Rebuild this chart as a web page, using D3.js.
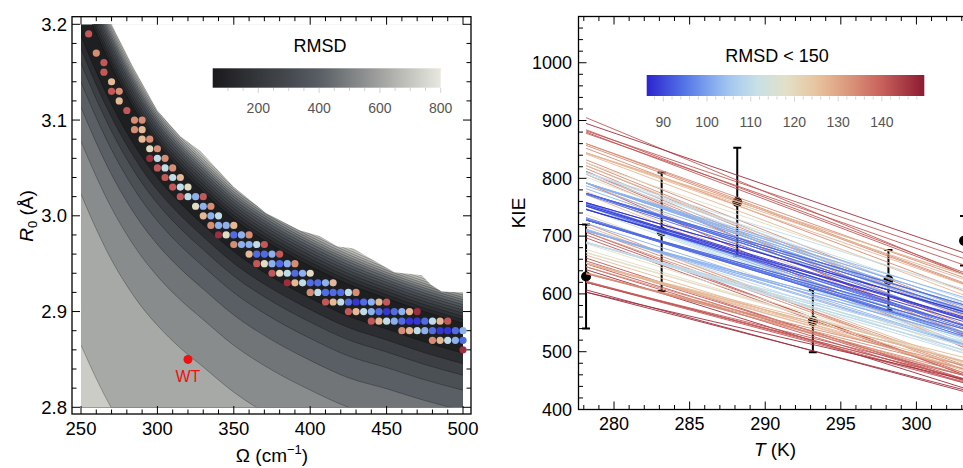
<!DOCTYPE html>
<html>
<head>
<meta charset="utf-8">
<script src="https://cdn.jsdelivr.net/npm/d3@7"></script>
<style>
  body { margin: 0; background: #fff; }
  svg { font-family: "Liberation Sans", Arial, Helvetica, sans-serif; }
</style>
</head>
<body>
<svg id="chart" width="963" height="468"></svg>
<script>
// ---- left panel: RMSD landscape over (Omega, R0) ----
// valley of the RMSD surface (centre of the dark band)
const valleyOmega = [250, 260, 270, 280, 290, 300, 315, 330, 350, 375, 400, 425, 450, 475, 500]
const valleyR0 = [3.21, 3.172, 3.138, 3.108, 3.082, 3.06, 3.033, 3.01, 2.982, 2.955, 2.933, 2.914, 2.90, 2.886, 2.874]
// how much wider the contour spacing is at each Omega (relative to Omega = 400)
const lowerSpread = [1.15, 1.14, 1.13, 1.11, 1.09, 1.07, 1.05, 1.03, 1.02, 1.01, 1.0, 0.99, 0.96, 0.94, 0.92]
const upperSpread = [1.3, 1.26, 1.22, 1.16, 1.1, 1.05, 1.03, 1.02, 1.0, 1.0, 1.0, 1.0, 0.95, 0.95, 0.95]
// contour levels below / above the valley and their R0 distance from it
const lowerLevels = [100, 200, 290, 370, 440, 500, 570, 670]
const lowerOffsets = [0.019, 0.031, 0.044, 0.061, 0.084, 0.115, 0.163, 0.30]
const upperLevels = [100, 150, 200, 250, 300, 350, 400, 450, 500, 550, 600, 650, 700, 750]
const upperOffsets = [0.0145, 0.0185, 0.0222, 0.0257, 0.029, 0.032, 0.035, 0.038, 0.0405, 0.043, 0.0455, 0.048, 0.0505, 0.053]
// where the plotted surface stops (RMSD > 800 left blank)
const edgeOmega = [262, 270, 284, 300, 315, 328, 350, 371, 393, 406, 418, 428, 440, 455, 473, 479, 486, 500, 512]
const edgeR0 = [3.23, 3.2, 3.156, 3.11, 3.083, 3.068, 3.03, 3.003, 2.985, 2.979, 2.968, 2.966, 2.955, 2.941, 2.938, 2.928, 2.921, 2.92, 2.92]

const greyStops = [50, 200, 400, 600, 800]
const greyColors = ["#1a1a1c", "#34373b", "#575d63", "#a0a29f", "#e8e8e0"]
const greyTicks = [200, 400, 600, 800]

// grid points with RMSD < 150, one row per R0, Omega step 5
const omegaStep = 5
const dotRowR0 = [3.19, 3.17, 3.16, 3.15, 3.14, 3.13, 3.12, 3.11, 3.10, 3.09, 3.08, 3.07, 3.06, 3.05, 3.04, 3.03, 3.02,
  3.01, 3.00, 2.99, 2.98, 2.97, 2.96, 2.95, 2.94, 2.93, 2.92, 2.91, 2.90, 2.89, 2.88, 2.87, 2.86]
const dotRowStart = [255, 260, 265, 265, 270, 270, 275, 280, 285, 285, 290, 295, 295, 300, 305, 310, 315,
  325, 330, 335, 340, 350, 360, 365, 375, 385, 400, 410, 425, 440, 460, 480, 500]
const dotRmsd = [
  [141], [134], [141], [141], [127], [141, 134], [127], [141], [134, 134], [134, 127], [127, 134], [119, 134],
  [147, 110, 134], [141, 110, 134], [141, 110, 127], [141, 110, 119], [141, 110, 102, 141],
  [119, 102, 134], [127, 102, 110], [134, 102, 102, 127], [147, 119, 94, 102, 134], [134, 102, 102, 110, 141],
  [127, 94, 94, 102, 141], [141, 119, 102, 94, 102, 134], [141, 119, 110, 94, 102, 119],
  [147, 127, 110, 94, 94, 102, 127], [134, 110, 94, 94, 94, 110, 134],
  [141, 127, 110, 94, 88, 94, 102, 127, 141], [141, 127, 110, 102, 94, 88, 94, 102, 127, 147],
  [141, 127, 110, 102, 94, 88, 88, 94, 110, 127, 141], [134, 127, 110, 102, 94, 88, 88, 94, 102],
  [134, 127, 110, 102, 94], [147]
]
const wtOmega = 320
const wtR0 = 2.85

// ---- right panel: KIE vs T ----
// KIE predicted by each grid point above, at 278.15 K and at 303.15 K
const lineKie278 = [
  [792], [722], [812], [707], [777], [702, 807], [772], [697], [712, 812], [707, 792], [717, 817], [737, 822],
  [642, 752, 827], [662, 757, 832], [657, 747, 822], [652, 752, 802], [647, 712, 752, 905],
  [687, 757, 852], [667, 752, 807], [647, 722, 782, 842], [607, 677, 757, 792, 857], [637, 712, 787, 810, 880],
  [654, 732, 772, 792, 884], [622, 672, 710, 752, 792, 860], [620, 671, 690, 755, 792, 827],
  [603, 653, 689, 730, 774, 792, 844], [635, 689, 728, 747, 774, 810, 860],
  [620, 653, 689, 728, 752, 774, 792, 844, 878], [620, 653, 689, 709, 728, 754, 774, 792, 844, 895],
  [620, 653, 689, 709, 728, 746, 758, 774, 810, 844, 882], [635, 653, 689, 709, 728, 746, 758, 774, 792],
  [635, 653, 689, 709, 728], [603]
]
const lineKie303 = [
  [507], [469], [528], [460], [513], [463, 533], [510], [460], [477, 544], [474, 531], [480, 547], [501, 559],
  [437, 511, 562], [450, 522, 574], [453, 515, 567], [450, 519, 561], [446, 498, 526, 634],
  [481, 530, 605], [467, 534, 573], [459, 513, 555, 598], [431, 481, 545, 570, 617], [459, 513, 567, 583, 634],
  [471, 527, 556, 570, 637], [448, 484, 511, 541, 570, 619], [446, 483, 497, 544, 578, 604],
  [434, 470, 503, 533, 565, 578, 616], [464, 503, 531, 545, 565, 591, 628],
  [453, 477, 503, 531, 556, 573, 586, 625, 650], [453, 483, 510, 525, 539, 558, 573, 586, 633, 671],
  [459, 483, 510, 525, 539, 552, 569, 581, 608, 633, 661], [470, 483, 517, 532, 546, 560, 569, 581, 594],
  [476, 490, 517, 532, 546], [452]
]
const lineT = [278.15, 303.15]
// measured KIE with error bars
const tempK = [278.15, 283.15, 288.15, 293.15, 298.15, 303.15]
const kieObs = [630, 707.5, 759, 553, 624, 692]
const kieErr = [90, 102.5, 94, 54, 52, 43]

const rmsdStops = [86, 96, 104, 111, 118, 125, 132, 140, 150]
const rmsdColors = ["#2a22d0", "#5b7fe8", "#9cc1f0", "#c6e0e8", "#e2e0c8", "#e8c4a0", "#dc9a7c", "#c8605c", "#8a1830"]
const rmsdTicks = [90, 100, 110, 120, 130, 140]

const leftXTicks = [250, 300, 350, 400, 450, 500]
const leftYTicks = [2.8, 2.9, 3.0, 3.1, 3.2]
const rightXTicks = [280, 285, 290, 295, 300, 305]
const rightYTicks = [400, 500, 600, 700, 800, 900, 1000]

const svg = d3.select('#chart')
const defs = svg.append('defs')

const grey = d3.scaleLinear().domain(greyStops).range(greyColors)
const rmsdColor = d3.scaleLinear().domain(rmsdStops).range(rmsdColors).clamp(true)

// draws inward ticks on all four sides of a frame
function frameTicks(g, sx, sy, box, xMinor, xMajor, yMinor, yMajor) {
    const isMajor = (v, list) => list.some(m => Math.abs(m - v) < 1e-6)
    const t = g.append('g').attr('stroke', '#000').attr('stroke-width', 1)
    xMinor.forEach(v => {
        const x = sx(v)
        if (x < box.x0 || x > box.x1) return
        const len = isMajor(v, xMajor) ? 8 : 4.5
        t.append('line').attr('x1', x).attr('x2', x).attr('y1', box.y1).attr('y2', box.y1 - len)
        t.append('line').attr('x1', x).attr('x2', x).attr('y1', box.y0).attr('y2', box.y0 + len)
    })
    yMinor.forEach(v => {
        const y = sy(v)
        if (y < box.y0 || y > box.y1) return
        const len = isMajor(v, yMajor) ? 8 : 4.5
        t.append('line').attr('x1', box.x0).attr('x2', box.x0 + len).attr('y1', y).attr('y2', y)
        t.append('line').attr('x1', box.x1).attr('x2', box.x1 - len).attr('y1', y).attr('y2', y)
    })
    g.append('rect')
        .attr('x', box.x0).attr('y', box.y0)
        .attr('width', box.x1 - box.x0).attr('height', box.y1 - box.y0)
        .attr('fill', 'none').attr('stroke', '#000').attr('stroke-width', 1.3)
}

function gradient(id, scale, stops) {
    const lg = defs.append('linearGradient').attr('id', id)
        .attr('x1', '0%').attr('x2', '100%').attr('y1', '0%').attr('y2', '0%')
    const lo = stops[0], hi = stops[stops.length - 1]
    d3.range(0, 1.0001, 0.05).forEach(f => {
        lg.append('stop').attr('offset', (f * 100) + '%').attr('stop-color', scale(lo + f * (hi - lo)))
    })
}

/* ================= left panel ================= */
const xL = d3.scaleLinear().domain([250, 500]).range([81, 463])
const yL = d3.scaleLinear().domain([2.8, 3.2]).range([407.3, 24.3])
const boxL = {x0: 72, x1: 471, y0: 16.7, y1: 414}

defs.append('clipPath').attr('id', 'clip-left').append('rect')
    .attr('x', xL(250)).attr('y', yL(3.2))
    .attr('width', xL(500) - xL(250)).attr('height', yL(2.8) - yL(3.2))

const left = svg.append('g')
const contourG = left.append('g').attr('clip-path', 'url(#clip-left)')

contourG.append('rect')
    .attr('x', xL(250)).attr('y', yL(3.2))
    .attr('width', xL(500) - xL(250)).attr('height', yL(2.8) - yL(3.2))
    .attr('fill', grey(75))

const contourPts = (offset, spread, sign) => valleyOmega.map((w, i) => [w, valleyR0[i] + sign * offset * spread[i]])
const areaBelow = d3.area().x(d => xL(d[0])).y0(yL(2.6)).y1(d => yL(d[1])).curve(d3.curveMonotoneX)
const areaAbove = d3.area().x(d => xL(d[0])).y0(yL(3.4)).y1(d => yL(d[1])).curve(d3.curveMonotoneX)
const contourLine = d3.line().x(d => xL(d[0])).y(d => yL(d[1])).curve(d3.curveMonotoneX)

const lowerLines = lowerOffsets.map(o => contourPts(o, lowerSpread, -1))
const upperLines = upperOffsets.map(o => contourPts(o, upperSpread, 1))

lowerLines.forEach((pts, k) => {
    const lv = k < lowerLevels.length - 1 ? (lowerLevels[k] + lowerLevels[k + 1]) / 2 : lowerLevels[k] + 50
    contourG.append('path').attr('d', areaBelow(pts)).attr('fill', grey(lv))
})
upperLines.forEach((pts, k) => {
    const lv = k < upperLevels.length - 1 ? (upperLevels[k] + upperLevels[k + 1]) / 2 : upperLevels[k] + 25
    contourG.append('path').attr('d', areaAbove(pts)).attr('fill', grey(lv))
})
lowerLines.concat(upperLines).forEach(pts => {
    contourG.append('path').attr('d', contourLine(pts))
        .attr('fill', 'none').attr('stroke', '#000').attr('stroke-opacity', 0.45).attr('stroke-width', 0.6)
})

// blank region beyond the surface
const edgePts = edgeOmega.map((w, i) => [w, edgeR0[i]])
contourG.append('path')
    .attr('d', d3.area().x(d => xL(d[0])).y0(yL(3.4)).y1(d => yL(d[1])).curve(d3.curveLinear)(edgePts))
    .attr('fill', '#fff')

// grid points
const dots = []
dotRowR0.forEach((r0, i) => {
    dotRmsd[i].forEach((v, j) => dots.push({omega: dotRowStart[i] + j * omegaStep, r0: r0, rmsd: v}))
})
left.append('g').selectAll('circle')
    .data(dots)
    .join('circle')
    .attr('cx', d => xL(d.omega))
    .attr('cy', d => yL(d.r0))
    .attr('r', 3.6)
    .attr('fill', d => rmsdColor(d.rmsd))

left.append('circle').attr('cx', xL(wtOmega)).attr('cy', yL(wtR0)).attr('r', 4.5).attr('fill', '#f01010')
left.append('text').attr('x', xL(wtOmega)).attr('y', yL(wtR0) + 23)
    .attr('text-anchor', 'middle').attr('font-size', 16).attr('fill', '#f01010').text('WT')

// grey legend
const gl = d3.scaleLinear().domain([50, 800]).range([212.7, 440.7])
gradient('grey-grad', grey, greyStops)
left.append('rect').attr('x', gl(50)).attr('y', 68.3).attr('width', gl(800) - gl(50)).attr('height', 19.4)
    .attr('fill', 'url(#grey-grad)')
d3.range(100, 801, 50).forEach(v => {
    left.append('line').attr('x1', gl(v)).attr('x2', gl(v)).attr('y1', 88).attr('y2', greyTicks.includes(v) ? 93 : 91)
        .attr('stroke', '#c8c8c8').attr('stroke-width', 0.8)
})
left.append('g').selectAll('text').data(greyTicks).join('text')
    .attr('x', d => gl(d)).attr('y', 112.5).attr('text-anchor', 'middle')
    .attr('font-size', 14).attr('fill', '#555').text(d => d)
left.append('text').attr('x', 320).attr('y', 52).attr('text-anchor', 'middle').attr('font-size', 18).text('RMSD')

frameTicks(left, xL, yL, boxL,
    d3.range(250, 501, 10), leftXTicks,
    d3.range(0, 21).map(i => 2.8 + i * 0.02), leftYTicks)

left.append('g').selectAll('text').data(leftXTicks).join('text')
    .attr('x', d => xL(d)).attr('y', 435).attr('text-anchor', 'middle').attr('font-size', 18.5).text(d => d)
left.append('g').selectAll('text').data(leftYTicks).join('text')
    .attr('x', 67).attr('y', d => yL(d) + 6.5).attr('text-anchor', 'end').attr('font-size', 18.5)
    .text(d => d3.format('.1f')(d))

const omegaTitle = left.append('text').attr('x', 272).attr('y', 462).attr('text-anchor', 'middle').attr('font-size', 19)
omegaTitle.append('tspan').text('\u03A9 (cm')
omegaTitle.append('tspan').attr('dy', -8).attr('font-size', 13).text('\u22121')
omegaTitle.append('tspan').attr('dy', 8).text(')')

const r0Title = left.append('text').attr('transform', 'translate(33,216) rotate(-90)')
    .attr('text-anchor', 'middle').attr('font-size', 19)
r0Title.append('tspan').attr('font-style', 'italic').text('R')
r0Title.append('tspan').attr('dy', 4).attr('font-size', 13).text('0')
r0Title.append('tspan').attr('dy', -4).text(' (\u00C5)')

/* ================= right panel ================= */
const xR = d3.scaleLinear().domain([277.65, 303.65]).range([578.5, 971.6])
const yR = d3.scaleLinear().domain([400, 1080]).range([409.5, 16.5])
const boxR = {x0: 578.5, x1: 971.6, y0: 16.5, y1: 409.5}

defs.append('clipPath').attr('id', 'clip-right').append('rect')
    .attr('x', boxR.x0).attr('y', boxR.y0).attr('width', boxR.x1 - boxR.x0).attr('height', boxR.y1 - boxR.y0)

const right = svg.append('g')
const obs = tempK.map((t, i) => ({t: t, kie: kieObs[i], err: kieErr[i]}))

// measurements (drawn under the model lines)
const obsG = right.append('g').attr('clip-path', 'url(#clip-right)')
obs.forEach(d => {
    const x = xR(d.t)
    obsG.append('line').attr('x1', x).attr('x2', x).attr('y1', yR(d.kie - d.err)).attr('y2', yR(d.kie + d.err))
        .attr('stroke', '#000').attr('stroke-width', 2)
    ;[d.kie - d.err, d.kie + d.err].forEach(v => {
        obsG.append('line').attr('x1', x - 4).attr('x2', x + 4).attr('y1', yR(v)).attr('y2', yR(v))
            .attr('stroke', '#000').attr('stroke-width', 2)
    })
    obsG.append('circle').attr('cx', x).attr('cy', yR(d.kie)).attr('r', 5).attr('fill', '#000')
})

// model curves, one per grid point
const curves = []
dotRowR0.forEach((r0, i) => {
    dotRmsd[i].forEach((v, j) => curves.push({rmsd: v, kie: [lineKie278[i][j], lineKie303[i][j]]}))
})
const kieLine = d3.line().x((d, i) => xR(lineT[i])).y(d => yR(d))
right.append('g').attr('clip-path', 'url(#clip-right)')
    .selectAll('path')
    .data(curves)
    .join('path')
    .attr('d', d => kieLine(d.kie))
    .attr('fill', 'none')
    .attr('stroke', d => rmsdColor(d.rmsd))
    .attr('stroke-width', 1)
    .attr('stroke-opacity', 0.9)

// colour legend
const cl = d3.scaleLinear().domain([86.2, 149.7]).range([646.7, 924.3])
gradient('rmsd-grad', rmsdColor, [86.2, 149.7])
right.append('rect').attr('x', cl(86.2)).attr('y', 75).attr('width', cl(149.7) - cl(86.2)).attr('height', 21)
    .attr('fill', 'url(#rmsd-grad)')
d3.range(88, 149, 2).forEach(v => {
    right.append('line').attr('x1', cl(v)).attr('x2', cl(v)).attr('y1', 96.5).attr('y2', v % 10 === 0 ? 101.5 : 99.5)
        .attr('stroke', '#c8c8c8').attr('stroke-width', 0.8)
})
right.append('g').selectAll('text').data(rmsdTicks).join('text')
    .attr('x', d => cl(d)).attr('y', 126.5).attr('text-anchor', 'middle')
    .attr('font-size', 14).attr('fill', '#555').text(d => d)
right.append('text').attr('x', 777).attr('y', 61.5).attr('text-anchor', 'middle').attr('font-size', 18).text('RMSD < 150')

frameTicks(right, xR, yR, boxR,
    d3.range(278, 304, 1), rightXTicks,
    d3.range(400, 1081, 20), rightYTicks)

right.append('g').selectAll('text').data(rightXTicks.filter(v => v <= 300)).join('text')
    .attr('x', d => xR(d)).attr('y', 430).attr('text-anchor', 'middle').attr('font-size', 18).text(d => d)
right.append('g').selectAll('text').data(rightYTicks).join('text')
    .attr('x', 572).attr('y', d => yR(d) + 6.3).attr('text-anchor', 'end').attr('font-size', 18).text(d => d)

const tTitle = right.append('text').attr('x', 775).attr('y', 456).attr('text-anchor', 'middle').attr('font-size', 19)
tTitle.append('tspan').attr('font-style', 'italic').text('T')
tTitle.append('tspan').text(' (K)')

right.append('text').attr('transform', 'translate(525,213) rotate(-90)')
    .attr('text-anchor', 'middle').attr('font-size', 19).text('KIE')
</script>
</body>
</html>
